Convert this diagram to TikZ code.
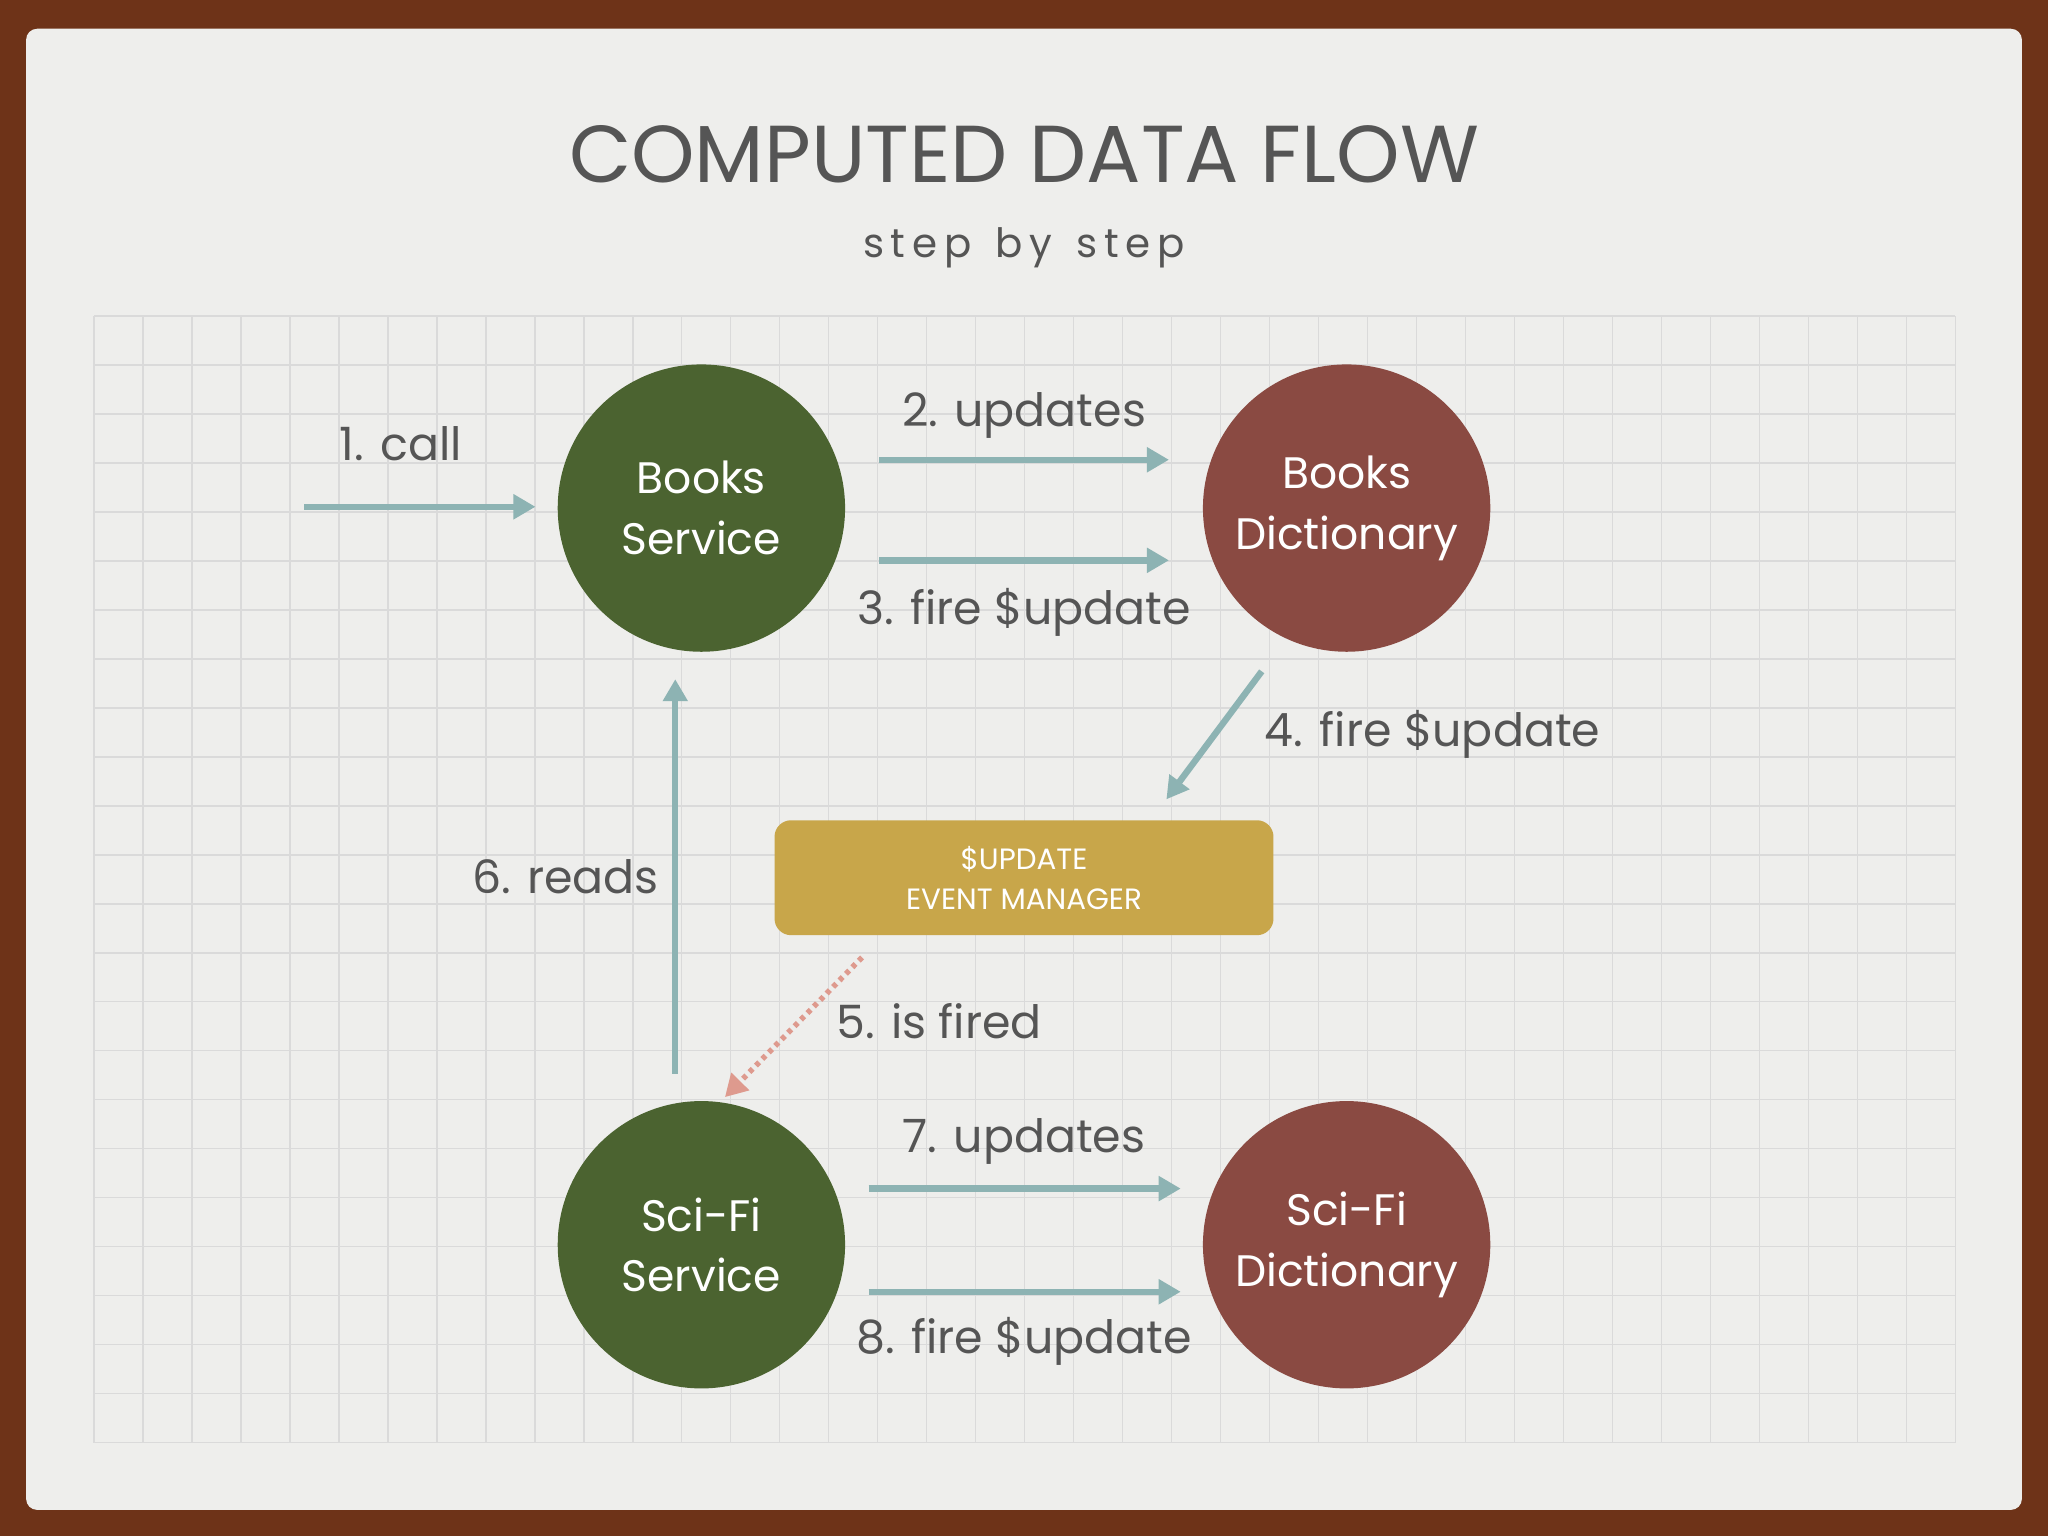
\documentclass[tikz,border=0pt]{standalone}
\usepackage{fontspec}
\setmainfont{Poppins}
\usetikzlibrary{arrows.meta}
\definecolor{brownb}{HTML}{6E3318}
\definecolor{panel}{HTML}{EEEEEC}
\definecolor{gridc}{HTML}{DADADA}
\definecolor{gr}{HTML}{4B6330}
\definecolor{rd}{HTML}{8A4A42}
\definecolor{gd}{HTML}{C8A64A}
\definecolor{tl}{HTML}{8DB3B3}
\definecolor{pk}{HTML}{DE9A8E}
\definecolor{txt}{HTML}{555555}
\begin{document}
\begin{tikzpicture}[x=0.05cm,y=-0.05cm,
  circ/.style={circle,minimum size=220*0.05cm,inner sep=0,text=white,align=center,font=\fontsize{48}{66}\selectfont},
  arr/.style={draw=tl,line width=7pt,-{Triangle[length=24pt,width=26pt]}},
  lbl/.style={text=txt,font=\fontsize{50}{60}\selectfont}]
\useasboundingbox (0,0) rectangle (1568,1176);
\fill[brownb] (0,0) rectangle (1568,1176);
\fill[panel,rounded corners=12pt] (20,22) rectangle (1548,1156);
\foreach \i in {0,...,38} \draw[gridc,line width=1.5pt] (72+\i*37.5,242) -- (72+\i*37.5,1105);
\foreach \j in {0,...,23} \draw[gridc,line width=1.5pt] (72,242+\j*37.5) -- (1497,242+\j*37.5);
\node[text=txt,font=\fontsize{88}{90}\selectfont] (title) at (784,118) {COMPUTED DATA FLOW};
\node[text=txt,font=\fontsize{44}{50}\selectfont] (sub) at (784,190) {s\,t\,e\,p\, \,b\,y\, \,s\,t\,e\,p};
\node[circ,fill=gr] (bs) at (537,389) {Books\\Service};
\node[circ,fill=rd] (bd) at (1031,389) {Books\\Dictionary};
\node[circ,fill=gr] (ss) at (537,953) {Sci-Fi\\Service};
\node[circ,fill=rd] (sd) at (1031,953) {Sci-Fi\\Dictionary};
\node[fill=gd,rounded corners=18pt,minimum width=382*0.05cm,minimum height=88*0.05cm,text=white,align=center,font=\fontsize{32}{44}\selectfont] (em) at (784,672) {\$UPDATE\\EVENT MANAGER};
\coordinate (a1) at (233,388); \coordinate (b1) at (410,388);
\coordinate (a2) at (673,352); \coordinate (b2) at (895,352);
\coordinate (a3) at (673,429); \coordinate (b3) at (895,429);
\coordinate (a4) at (966,514); \coordinate (b4) at (893,612);
\coordinate (a6) at (517,822); \coordinate (b6) at (517,520);
\coordinate (a5) at (660,733); \coordinate (b5) at (555,840);
\coordinate (a7) at (665,910); \coordinate (b7) at (904,910);
\coordinate (a8) at (665,989); \coordinate (b8) at (904,989);
\draw[arr] (a1) -- (b1);
\draw[arr] (a2) -- (b2);
\draw[arr] (a3) -- (b3);
\draw[arr] (a4) -- (b4);
\draw[arr] (a6) -- (b6);
\draw[arr] (a7) -- (b7);
\draw[arr] (a8) -- (b8);
\draw[draw=pk,line width=6pt,dash pattern=on 5pt off 5pt,-{Triangle[length=24pt,width=26pt,fill=pk]}] (a5) -- (b5);
\node[lbl] (l1) at (307,340) {1. call};
\node[lbl] (l2) at (784,318) {2. updates};
\node[lbl] (l3) at (784,469) {3. fire \$update};
\node[lbl,anchor=west] (l4) at (966,562) {4. fire \$update};
\node[lbl] (l6) at (433,671) {6. reads};
\node[lbl,anchor=west] (l5) at (638,782) {5. is fired};
\node[lbl] (l7) at (784,874) {7. updates};
\node[lbl] (l8) at (784,1027) {8. fire \$update};
\end{tikzpicture}
\end{document}
